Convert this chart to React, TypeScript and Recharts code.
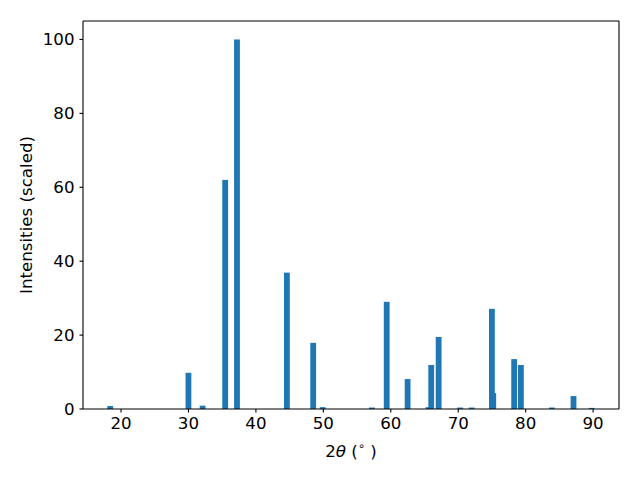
import { ComposedChart, Bar, XAxis, YAxis, ReferenceLine } from "recharts";

// 2theta positions (deg) and scaled intensities
const twoTheta = [
  18.4, 30.0, 32.1, 35.45, 37.2, 44.6, 48.5, 49.9, 57.2, 59.4, 62.5, 65.6,
  66.0, 67.1, 70.3, 72.0, 75.0, 75.2, 78.3, 79.3, 83.9, 87.1, 89.8,
];
const intensities = [
  0.8, 9.8, 0.9, 62, 100, 36.9, 17.9, 0.5, 0.4, 29, 8.1, 0.5, 11.9, 19.5, 0.4,
  0.4, 27.1, 4.3, 13.5, 11.9, 0.4, 3.5, 0.3,
];
const xTicks = [20, 30, 40, 50, 60, 70, 80, 90];
const yTicks = [0, 20, 40, 60, 80, 100];

const data = twoTheta.map((t, i) => ({ theta: t, intensity: intensities[i] }));

const X_MIN = 14.36;
const X_MAX = 93.84;
const Y_MAX = 105;

const FONT = "DejaVu Sans, sans-serif";
const FS = 16.67;
const BAR_PX = 5.8;

// keep bars a fixed width, centred on the scaled x value
const PeakBar = (props: any) => {
  const { x, y, width, height, fill } = props;
  if (height == null || height <= 0) return null;
  const cx = x + width / 2;
  return <rect x={cx - BAR_PX / 2} y={y} width={BAR_PX} height={height} fill={fill} />;
};

const tickStyle = { fill: "#000", fontSize: FS, fontFamily: FONT };
const axisLine = { stroke: "#000", strokeWidth: 1.1 };

export default function App() {
  return (
    <div style={{ position: "absolute", left: 0, top: 0, background: "#fff" }}>
      <ComposedChart
        width={640}
        height={480}
        data={data}
        margin={{ top: 21, right: 21, bottom: 21, left: 23 }}
      >
        <XAxis
          dataKey="theta"
          type="number"
          domain={[X_MIN, X_MAX]}
          ticks={xTicks}
          allowDataOverflow
          tick={tickStyle}
          tickSize={3.5}
          tickMargin={5}
          axisLine={axisLine}
          tickLine={axisLine}
          height={50}
          label={{
            content: () => (
              <text x={351} y={457} textAnchor="middle" fontSize={FS} fontFamily={FONT} fill="#000">
                2<tspan fontStyle="italic">θ</tspan> (
                <tspan fontSize={11.5} dy={-7}>∘</tspan>
                <tspan dy={7}> )</tspan>
              </text>
            ),
          }}
        />
        <YAxis
          type="number"
          domain={[0, Y_MAX]}
          ticks={yTicks}
          allowDataOverflow
          tick={tickStyle}
          tickSize={3.5}
          tickMargin={5}
          axisLine={axisLine}
          tickLine={axisLine}
          width={60}
          label={{
            content: () => (
              <text
                x={32}
                y={215}
                transform="rotate(-90 32 215)"
                textAnchor="middle"
                fontSize={FS}
                fontFamily={FONT}
                fill="#000"
              >
                Intensities (scaled)
              </text>
            ),
          }}
        />
        <Bar dataKey="intensity" fill="#1f77b4" shape={PeakBar} isAnimationActive={false} />
        <ReferenceLine y={Y_MAX} stroke="#000" strokeWidth={1.1} />
        <ReferenceLine x={X_MAX} stroke="#000" strokeWidth={1.1} />
      </ComposedChart>
    </div>
  );
}
